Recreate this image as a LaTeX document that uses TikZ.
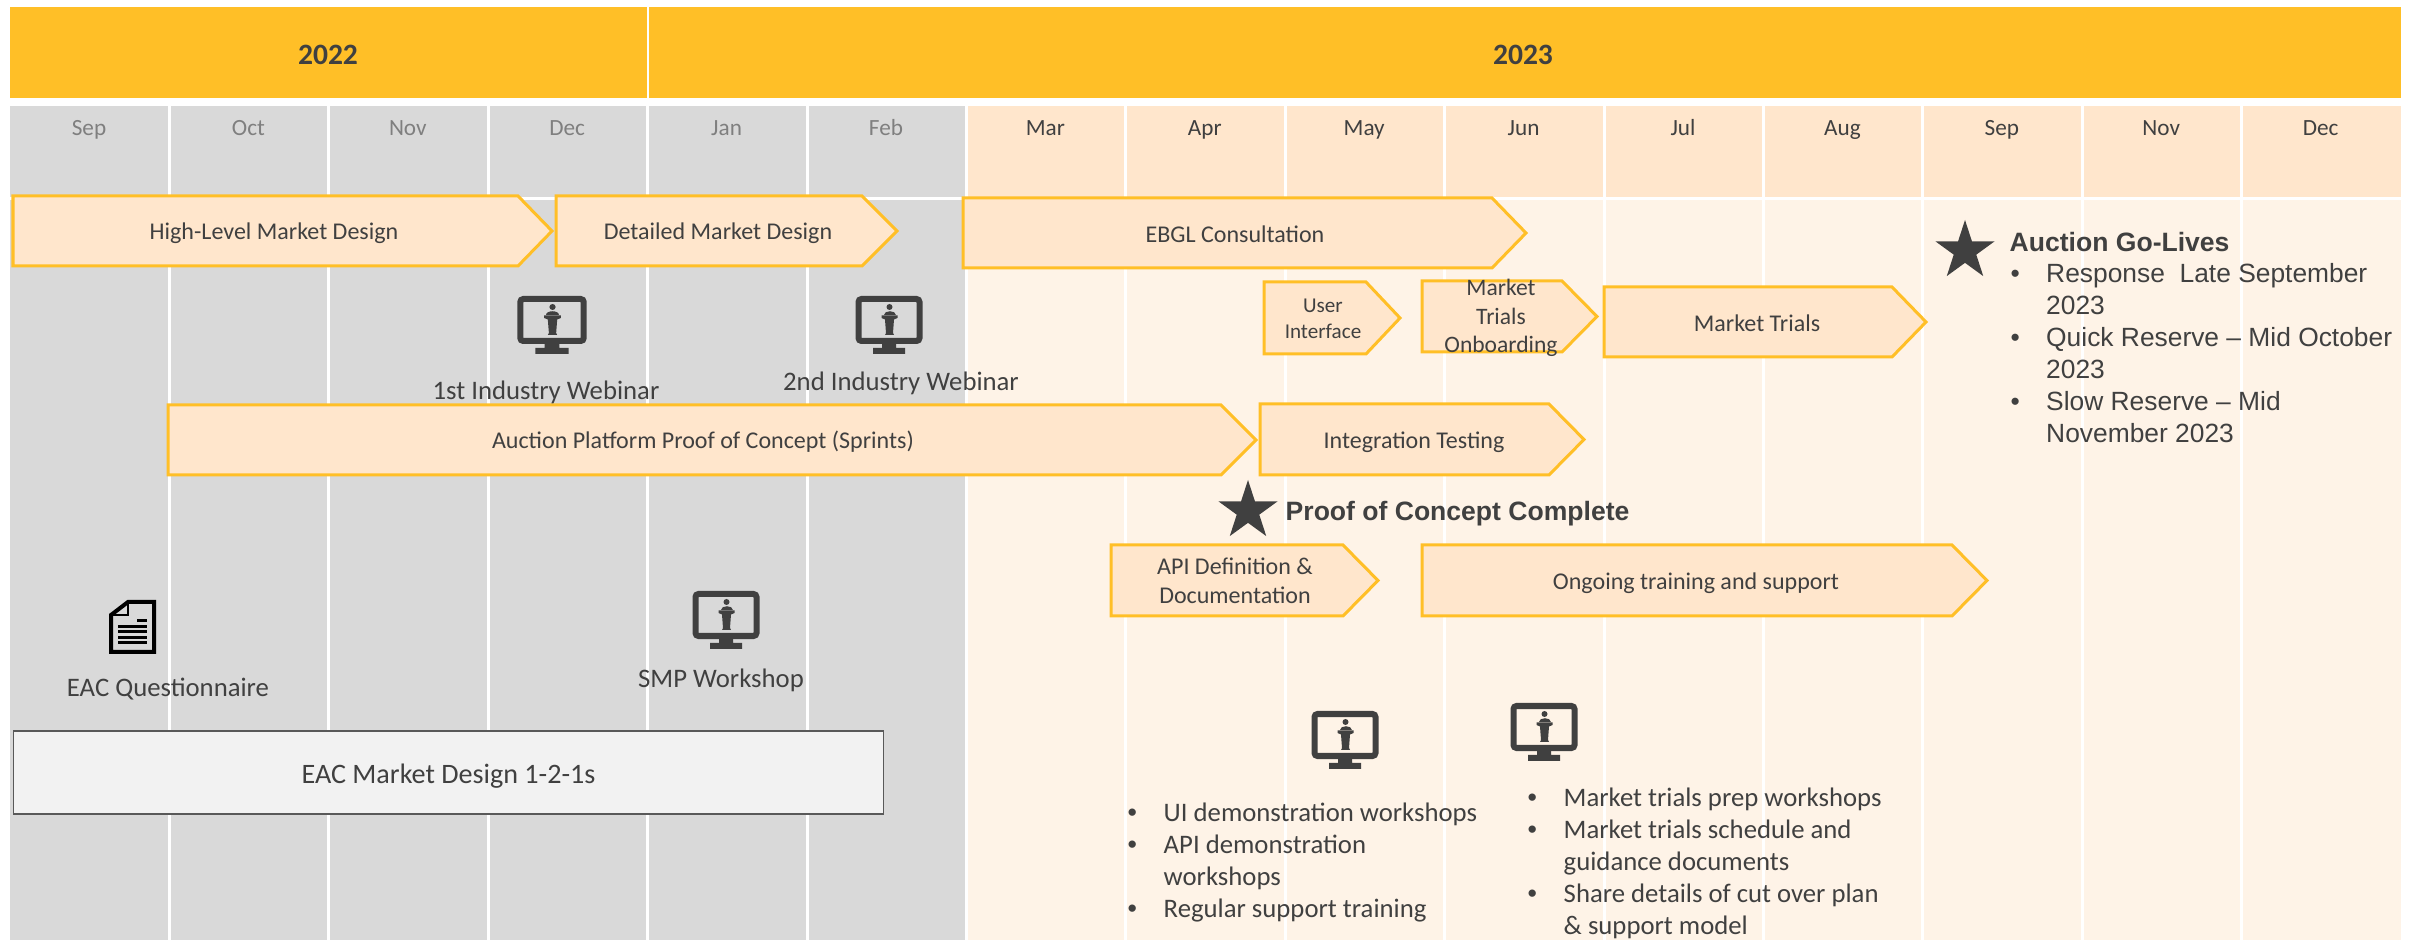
\documentclass[tikz,border=0pt]{standalone}
\usepackage{fontspec}
\setmainfont{Carlito}
\newfontfamily\arialfont{Liberation Sans}
\usetikzlibrary{shapes.geometric}
\definecolor{amber}{HTML}{FFBF27}
\definecolor{peach}{HTML}{FFE6CC}
\definecolor{paleback}{HTML}{FEF3E7}
\definecolor{greyback}{HTML}{D9D9D9}
\definecolor{darktext}{HTML}{404040}
\definecolor{greytext}{HTML}{7F7F7F}
\tikzset{
    phase/.style={draw=amber, fill=peach, line width=0.03cm, line join=miter},
    phaselabel/.style={text=darktext, inner sep=0pt, align=center, font=\fontsize{6.83}{8.1}\selectfont},
    monthlabel/.style={inner sep=0pt, anchor=base, font=\fontsize{6.6}{8}\selectfont},
    toptext/.style={text=darktext, inner sep=0pt, font=\fontsize{7.6}{9}\selectfont},
    listtext/.style={text=darktext, inner sep=0pt, anchor=north west},
    milestone/.style={text=darktext, inner sep=0pt, anchor=west, font=\arialfont\bfseries\fontsize{7.55}{9}\selectfont},
    staricon/.style={star, star points=5, star point ratio=2.618, fill=darktext, inner sep=0pt, minimum size=0.62cm},
    monitor/.pic={
        \draw[darktext, line width=0.06cm, rounded corners=0.03cm] (-30.5,-21) rectangle (30.5,21);
        \fill[darktext] (-7,24) rectangle (7,28) (-16,28) rectangle (16,34);
        \fill[darktext] (0.5,-13) circle (0.03cm);
        \fill[darktext] (-5.5,-4.5) .. controls (-5.5,-10) and (6.5,-10) .. (6.5,-4.5) -- cycle;
        \fill[darktext] (-7.5,-4.5) -- (8.5,-4.5) -- (8.5,-2) -- (5,-0.5) -- (4,13) -- (5,15) -- (-4,15) -- (-3,13) -- (-4,-0.5) -- (-7.5,-2) -- cycle;
    }
}
\newcommand{\phasebar}[5]{\draw[phase] (#1,#4) -- (#2,#4) -- (#3,{(#4+#5)/2}) -- (#2,#5) -- (#1,#5) -- cycle;}
\newcommand{\smalldot}{{\arialfont •}}
\begin{document}
\begin{tikzpicture}[x=0.01cm,y=-0.01cm]
    \useasboundingbox (0,0) rectangle (2417,940);
    % year bands
    \fill[amber] (10,7) rectangle (646.5,98);
    \fill[amber] (649,7) rectangle (2401,98);
    \node[toptext, font=\bfseries\fontsize{8.4}{10}\selectfont] (y2022) at (328,55) {2022};
    \node[toptext, font=\bfseries\fontsize{8.4}{10}\selectfont] (y2023) at (1523,55) {2023};
    % month columns
    \fill[greyback] (10,106) rectangle (966.4,940);
    \fill[peach] (966.4,106) rectangle (2401,198);
    \fill[paleback] (966.4,198) rectangle (2401,940);
    \draw[white, line width=0.03cm] (10,199) -- (2401,199);
    \foreach \i in {1,...,14} {
        \draw[white, line width=0.03cm] ({10+159.4*\i},106) -- ({10+159.4*\i},940);
    }
    \foreach \m [count=\i from 0] in {Sep,Oct,Nov,Dec,Jan,Feb} {
        \node[monthlabel, text=greytext] (grey\i) at ({89+159.4*\i},135.5) {\m};
    }
    \foreach \m [count=\i from 6] in {Mar,Apr,May,Jun,Jul,Aug,Sep,Nov,Dec} {
        \node[monthlabel, text=darktext] (peach\i) at ({89+159.4*\i},135.5) {\m};
    }
    % phases
    \phasebar{13}{518}{552}{196}{266}
    \node[phaselabel] (highlevel) at (274,233.5) {High-Level Market Design};
    \phasebar{556}{862}{897}{196}{266}
    \node[phaselabel] (detailed) at (718,233.5) {Detailed Market Design};
    \phasebar{963}{1492}{1526}{198}{268}
    \node[phaselabel] (ebgl) at (1235,234.5) {EBGL Consultation};
    \phasebar{1264}{1366}{1400}{282}{354}
    \node[phaselabel, font=\fontsize{6}{7.4}\selectfont] (userif) at (1323,319) {User\\Interface};
    \phasebar{1422}{1562}{1597}{281}{352}
    \node[phaselabel, font=\fontsize{6.7}{8.1}\selectfont] (onboard) at (1501,318) {Market\\Trials\\Onboarding};
    \phasebar{1604}{1892}{1926}{287}{357}
    \node[phaselabel] (trials) at (1757,323) {Market Trials};
    \phasebar{168}{1221}{1256}{405}{475}
    \node[phaselabel] (sprints) at (703,442) {Auction Platform Proof of Concept (Sprints)};
    \phasebar{1260}{1549}{1584}{404}{475}
    \node[phaselabel] (integration) at (1414,442) {Integration Testing};
    \phasebar{1111}{1343}{1378}{545}{616}
    \node[phaselabel] (apidef) at (1235,581) {API Definition \&\\Documentation};
    \phasebar{1422}{1952}{1987}{545}{616}
    \node[phaselabel] (ongoing) at (1696,583) {Ongoing training and support};
    % EAC box
    \node[draw=black!65, fill=black!5, line width=0.015cm, minimum width=8.69cm, minimum height=0.83cm, inner sep=0pt] (eacbox) at (448.5,772.5) {};
    \node[toptext, font=\fontsize{8}{9}\selectfont] (eaclabel) at (448.5,776.5) {EAC Market Design 1-2-1s};
    % webinars and workshops
    \pic[xscale=1.04] at (552,320) {monitor};
    \node[toptext] (webinara) at (546,392) {1st Industry Webinar};
    \pic at (889,320) {monitor};
    \node[toptext] (webinarb) at (901,383.5) {2nd Industry Webinar};
    \pic at (726,615) {monitor};
    \node[toptext] (smp) at (721,680) {SMP Workshop};
    \pic at (1345,735) {monitor};
    \pic at (1544,727) {monitor};
    % questionnaire page
    \draw[black, line width=0.04cm, line join=miter] (111,615) -- (128,602) -- (154,602) -- (154,652) -- (111,652) -- cycle;
    \draw[black, line width=0.02cm] (128,602) -- (128,615) -- (111,615);
    \draw[black, line width=0.03cm] (137,621) -- (147,621);
    \foreach \y in {626.5,632,638,643} {
        \draw[black, line width=0.03cm] (118,\y) -- (147,\y);
    }
    \node[toptext] (eacq) at (168,689) {EAC Questionnaire};
    % milestones
    \node[staricon] (starproof) at (1248,511) {};
    \node[milestone] (proof) at (1285,514) {Proof of Concept Complete};
    \node[staricon] (stargolive) at (1965,251) {};
    \node[milestone] (golive) at (2009,242) {Auction Go-Lives};
    \node[listtext, font=\arialfont\fontsize{7.5}{9.1}\selectfont] (golivelist) at (2010,259) {%
        \begin{tabular}{@{}p{0.355cm}@{}l@{}}
        • & Response\ \ Late September\\
        & 2023\\
        • & Quick Reserve – Mid October\\
        & 2023\\
        • & Slow Reserve – Mid\\
        & November 2023
        \end{tabular}};
    % workshop lists
    \node[listtext, font=\fontsize{7.6}{9.1}\selectfont] (uilist) at (1127,798.5) {%
        \begin{tabular}{@{}p{0.36cm}@{}l@{}}
        \smalldot & UI demonstration workshops\\
        \smalldot & API demonstration\\
        & workshops\\
        \smalldot & Regular support training
        \end{tabular}};
    \node[listtext, font=\fontsize{7.6}{9.1}\selectfont] (mtlist) at (1527,783.5) {%
        \begin{tabular}{@{}p{0.36cm}@{}l@{}}
        \smalldot & Market trials prep workshops\\
        \smalldot & Market trials schedule and\\
        & guidance documents\\
        \smalldot & Share details of cut over plan\\
        & \& support model
        \end{tabular}};
\end{tikzpicture}
\end{document}
